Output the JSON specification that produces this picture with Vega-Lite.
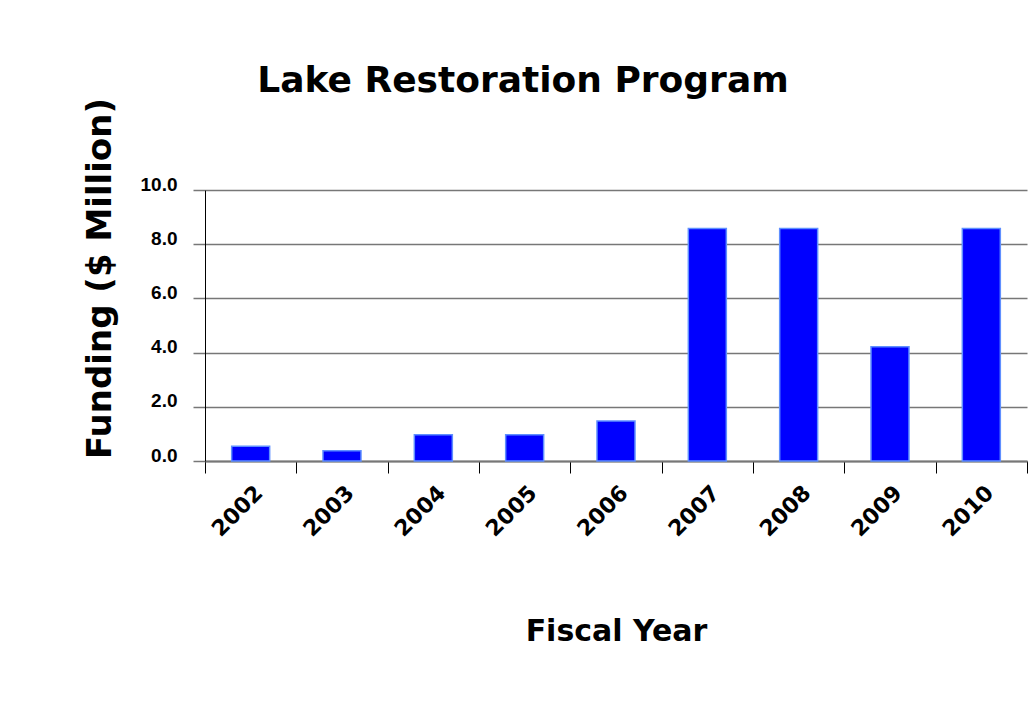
{
  "$schema": "https://vega.github.io/schema/vega-lite/v6.json",
  "autosize": {"type": "none"},
  "padding": {"left": 205, "top": 190, "right": 9, "bottom": 263},
  "width": 822,
  "height": 271,
  "background": "white",
  "title": {
    "text": "Lake Restoration Program",
    "font": "Comic Sans MS, DejaVu Sans",
    "fontSize": 36,
    "fontWeight": "bold",
    "color": "black",
    "anchor": "middle",
    "frame": "group",
    "dx": -93,
    "dy": 38,
    "baseline": "alphabetic",
    "offset": 8
  },
  "data": {
    "values": [
      {"year": "2002", "funding": 0.54},
      {"year": "2003", "funding": 0.38},
      {"year": "2004", "funding": 0.97},
      {"year": "2005", "funding": 0.97},
      {"year": "2006", "funding": 1.48},
      {"year": "2007", "funding": 8.58},
      {"year": "2008", "funding": 8.58},
      {"year": "2009", "funding": 4.22},
      {"year": "2010", "funding": 8.58}
    ]
  },
  "mark": {"type": "bar", "color": "#0000FF", "stroke": "#5F8FFF", "strokeWidth": 1.5, "width": {"band": 0.416}},
  "encoding": {
    "x": {
      "field": "year",
      "type": "nominal",
      "sort": null,
      "scale": {"paddingInner": 0, "paddingOuter": 0},
      "axis": {
        "title": "Fiscal Year",
        "titleFont": "Comic Sans MS, DejaVu Sans",
        "titleFontSize": 30,
        "titleFontWeight": "bold",
        "titleColor": "black",
        "titleX": 411,
        "titleY": 179,
        "titleAlign": "center",
        "titleBaseline": "alphabetic",
        "labelAngle": -45,
        "labelAlign": "right",
        "labelBaseline": "middle",
        "labelFont": "Comic Sans MS, DejaVu Sans",
        "labelFontSize": 22,
        "labelFontWeight": "bold",
        "labelColor": "black",
        "labelPadding": 16,
        "labelOffset": 8,
        "tickBand": "extent",
        "tickSize": 12,
        "tickColor": "black",
        "tickWidth": 1,
        "domainColor": "#777777",
        "domainWidth": 2,
        "grid": false
      }
    },
    "y": {
      "field": "funding",
      "type": "quantitative",
      "scale": {"domain": [0, 10], "nice": false},
      "axis": {
        "title": "Funding ($ Million)",
        "titleFont": "Comic Sans MS, DejaVu Sans",
        "titleFontSize": 34,
        "titleFontWeight": "bold",
        "titleColor": "black",
        "titleAngle": -90,
        "titleX": -105,
        "titleY": 88,
        "titleAlign": "center",
        "titleBaseline": "middle",
        "values": [0, 2, 4, 6, 8, 10],
        "format": ".1f",
        "labelFont": "Liberation Sans",
        "labelFontSize": 19,
        "labelFontWeight": "bold",
        "labelColor": "black",
        "labelBaseline": "alphabetic",
        "labelPadding": 16,
        "tickSize": 12,
        "tickColor": "#777777",
        "tickWidth": 1.5,
        "domainColor": "black",
        "domainWidth": 1,
        "grid": true,
        "gridColor": "#777777",
        "gridWidth": 1.5,
        "gridOpacity": 1
      }
    }
  },
  "config": {"view": {"stroke": null}}
}
